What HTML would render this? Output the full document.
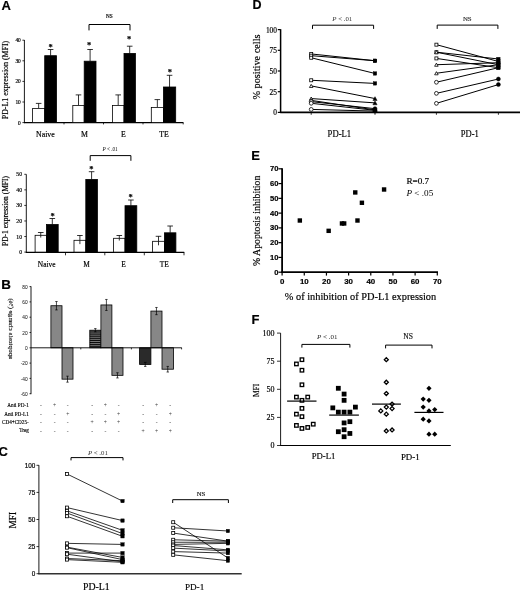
<!DOCTYPE html>
<html><head><meta charset="utf-8"><title>Figure</title>
<style>
html,body{margin:0;padding:0;background:#fff;}
body{width:520px;height:590px;overflow:hidden;}
svg{display:block;}
</style></head><body>
<svg width="520" height="590" viewBox="0 0 520 590">
<rect x="0" y="0" width="520" height="590" fill="#fff"/>
<g filter="url(#soft)">
<text x="1.60" y="10.00" font-size="13" text-anchor="start" style='font-family:"Liberation Sans",sans-serif' font-weight="bold" font-style="normal" fill="#000" stroke="#000" stroke-width="0.18">A</text>
<text x="1.20" y="288.70" font-size="13.4" text-anchor="start" style='font-family:"Liberation Sans",sans-serif' font-weight="bold" font-style="normal" fill="#000" stroke="#000" stroke-width="0.18">B</text>
<text x="-1.60" y="456.10" font-size="13" text-anchor="start" style='font-family:"Liberation Sans",sans-serif' font-weight="bold" font-style="normal" fill="#000" stroke="#000" stroke-width="0.18">C</text>
<text x="252.60" y="9.10" font-size="12.5" text-anchor="start" style='font-family:"Liberation Sans",sans-serif' font-weight="bold" font-style="normal" fill="#000" stroke="#000" stroke-width="0.18">D</text>
<text x="251.20" y="159.50" font-size="13" text-anchor="start" style='font-family:"Liberation Sans",sans-serif' font-weight="bold" font-style="normal" fill="#000" stroke="#000" stroke-width="0.18">E</text>
<text x="251.50" y="323.80" font-size="13" text-anchor="start" style='font-family:"Liberation Sans",sans-serif' font-weight="bold" font-style="normal" fill="#000" stroke="#000" stroke-width="0.18">F</text>
<line x1="24.40" y1="40.00" x2="24.40" y2="123.10" stroke="#000" stroke-width="0.9"/>
<line x1="24.00" y1="122.60" x2="183.40" y2="122.60" stroke="#000" stroke-width="1.2"/>
<line x1="22.40" y1="122.60" x2="24.40" y2="122.60" stroke="#000" stroke-width="0.8"/>
<text x="20.80" y="124.50" font-size="5.4" text-anchor="end" style='font-family:"Liberation Serif",serif' font-weight="normal" font-style="normal" fill="#000" stroke="#000" stroke-width="0.18">0</text>
<line x1="22.40" y1="102.00" x2="24.40" y2="102.00" stroke="#000" stroke-width="0.8"/>
<text x="20.80" y="103.90" font-size="5.4" text-anchor="end" style='font-family:"Liberation Serif",serif' font-weight="normal" font-style="normal" fill="#000" stroke="#000" stroke-width="0.18">10</text>
<line x1="22.40" y1="81.40" x2="24.40" y2="81.40" stroke="#000" stroke-width="0.8"/>
<text x="20.80" y="83.30" font-size="5.4" text-anchor="end" style='font-family:"Liberation Serif",serif' font-weight="normal" font-style="normal" fill="#000" stroke="#000" stroke-width="0.18">20</text>
<line x1="22.40" y1="60.80" x2="24.40" y2="60.80" stroke="#000" stroke-width="0.8"/>
<text x="20.80" y="62.70" font-size="5.4" text-anchor="end" style='font-family:"Liberation Serif",serif' font-weight="normal" font-style="normal" fill="#000" stroke="#000" stroke-width="0.18">30</text>
<line x1="22.40" y1="40.20" x2="24.40" y2="40.20" stroke="#000" stroke-width="0.8"/>
<text x="20.80" y="42.10" font-size="5.4" text-anchor="end" style='font-family:"Liberation Serif",serif' font-weight="normal" font-style="normal" fill="#000" stroke="#000" stroke-width="0.18">40</text>
<line x1="64.00" y1="122.60" x2="64.00" y2="124.40" stroke="#000" stroke-width="0.8"/>
<line x1="103.50" y1="122.60" x2="103.50" y2="124.40" stroke="#000" stroke-width="0.8"/>
<line x1="143.00" y1="122.60" x2="143.00" y2="124.40" stroke="#000" stroke-width="0.8"/>
<line x1="183.20" y1="122.60" x2="183.20" y2="124.40" stroke="#000" stroke-width="0.8"/>
<text x="7.70" y="80.00" font-size="7.9" text-anchor="middle" style='font-family:"Liberation Serif",serif' font-weight="normal" font-style="normal" fill="#000" stroke="#000" stroke-width="0.18" transform="rotate(-90 7.70 80.00)">PD-L1 expression (MFI)</text>
<line x1="38.65" y1="108.40" x2="38.65" y2="103.40" stroke="#000" stroke-width="0.8"/>
<line x1="35.85" y1="103.40" x2="41.45" y2="103.40" stroke="#000" stroke-width="0.8"/>
<line x1="50.60" y1="55.70" x2="50.60" y2="49.50" stroke="#000" stroke-width="0.8"/>
<line x1="47.80" y1="49.50" x2="53.40" y2="49.50" stroke="#000" stroke-width="0.8"/>
<rect x="32.60" y="108.40" width="12.10" height="14.20" fill="#fff" stroke="#000" stroke-width="0.8"/>
<rect x="44.70" y="55.70" width="11.80" height="66.90" fill="#000" stroke="#000" stroke-width="0.8"/>
<line x1="78.50" y1="105.40" x2="78.50" y2="94.90" stroke="#000" stroke-width="0.8"/>
<line x1="75.70" y1="94.90" x2="81.30" y2="94.90" stroke="#000" stroke-width="0.8"/>
<line x1="90.10" y1="61.20" x2="90.10" y2="49.50" stroke="#000" stroke-width="0.8"/>
<line x1="87.30" y1="49.50" x2="92.90" y2="49.50" stroke="#000" stroke-width="0.8"/>
<rect x="72.80" y="105.40" width="11.40" height="17.20" fill="#fff" stroke="#000" stroke-width="0.8"/>
<rect x="84.20" y="61.20" width="11.80" height="61.40" fill="#000" stroke="#000" stroke-width="0.8"/>
<line x1="118.20" y1="105.40" x2="118.20" y2="94.90" stroke="#000" stroke-width="0.8"/>
<line x1="115.40" y1="94.90" x2="121.00" y2="94.90" stroke="#000" stroke-width="0.8"/>
<line x1="129.70" y1="53.40" x2="129.70" y2="46.20" stroke="#000" stroke-width="0.8"/>
<line x1="126.90" y1="46.20" x2="132.50" y2="46.20" stroke="#000" stroke-width="0.8"/>
<rect x="112.40" y="105.40" width="11.60" height="17.20" fill="#fff" stroke="#000" stroke-width="0.8"/>
<rect x="124.00" y="53.40" width="11.40" height="69.20" fill="#000" stroke="#000" stroke-width="0.8"/>
<line x1="157.35" y1="107.40" x2="157.35" y2="99.60" stroke="#000" stroke-width="0.8"/>
<line x1="154.55" y1="99.60" x2="160.15" y2="99.60" stroke="#000" stroke-width="0.8"/>
<line x1="169.55" y1="87.00" x2="169.55" y2="75.30" stroke="#000" stroke-width="0.8"/>
<line x1="166.75" y1="75.30" x2="172.35" y2="75.30" stroke="#000" stroke-width="0.8"/>
<rect x="151.30" y="107.40" width="12.10" height="15.20" fill="#fff" stroke="#000" stroke-width="0.8"/>
<rect x="163.40" y="87.00" width="12.30" height="35.60" fill="#000" stroke="#000" stroke-width="0.8"/>
<text x="50.60" y="49.80" font-size="8.5" text-anchor="middle" style='font-family:"Liberation Serif",serif' font-weight="bold" font-style="normal" fill="#000" stroke="#000" stroke-width="0.18">*</text>
<text x="89.00" y="47.60" font-size="8.5" text-anchor="middle" style='font-family:"Liberation Serif",serif' font-weight="bold" font-style="normal" fill="#000" stroke="#000" stroke-width="0.18">*</text>
<text x="129.20" y="42.40" font-size="8.5" text-anchor="middle" style='font-family:"Liberation Serif",serif' font-weight="bold" font-style="normal" fill="#000" stroke="#000" stroke-width="0.18">*</text>
<text x="169.80" y="75.20" font-size="8.5" text-anchor="middle" style='font-family:"Liberation Serif",serif' font-weight="bold" font-style="normal" fill="#000" stroke="#000" stroke-width="0.18">*</text>
<text x="45.40" y="136.60" font-size="7.8" text-anchor="middle" style='font-family:"Liberation Serif",serif' font-weight="normal" font-style="normal" fill="#000" stroke="#000" stroke-width="0.18">Naive</text>
<text x="84.40" y="136.60" font-size="7.8" text-anchor="middle" style='font-family:"Liberation Serif",serif' font-weight="normal" font-style="normal" fill="#000" stroke="#000" stroke-width="0.18">M</text>
<text x="123.50" y="136.60" font-size="7.8" text-anchor="middle" style='font-family:"Liberation Serif",serif' font-weight="normal" font-style="normal" fill="#000" stroke="#000" stroke-width="0.18">E</text>
<text x="164.10" y="136.60" font-size="7.8" text-anchor="middle" style='font-family:"Liberation Serif",serif' font-weight="normal" font-style="normal" fill="#000" stroke="#000" stroke-width="0.18">TE</text>
<polyline points="89.00,30.40 89.00,24.50 130.00,24.50 130.00,30.40" fill="none" stroke="#000" stroke-width="1.0"/>
<text x="109.40" y="18.00" font-size="5.2" text-anchor="middle" style='font-family:"Liberation Serif",serif' font-weight="normal" font-style="normal" fill="#000" stroke="#000" stroke-width="0.18">NS</text>
<line x1="26.30" y1="174.30" x2="26.30" y2="252.90" stroke="#000" stroke-width="0.9"/>
<line x1="25.90" y1="252.40" x2="184.20" y2="252.40" stroke="#000" stroke-width="1.2"/>
<line x1="24.30" y1="252.10" x2="26.30" y2="252.10" stroke="#000" stroke-width="0.8"/>
<text x="22.10" y="254.10" font-size="5.8" text-anchor="end" style='font-family:"Liberation Serif",serif' font-weight="normal" font-style="normal" fill="#000" stroke="#000" stroke-width="0.18">0</text>
<line x1="24.30" y1="236.54" x2="26.30" y2="236.54" stroke="#000" stroke-width="0.8"/>
<text x="22.10" y="238.54" font-size="5.8" text-anchor="end" style='font-family:"Liberation Serif",serif' font-weight="normal" font-style="normal" fill="#000" stroke="#000" stroke-width="0.18">10</text>
<line x1="24.30" y1="220.98" x2="26.30" y2="220.98" stroke="#000" stroke-width="0.8"/>
<text x="22.10" y="222.98" font-size="5.8" text-anchor="end" style='font-family:"Liberation Serif",serif' font-weight="normal" font-style="normal" fill="#000" stroke="#000" stroke-width="0.18">20</text>
<line x1="24.30" y1="205.42" x2="26.30" y2="205.42" stroke="#000" stroke-width="0.8"/>
<text x="22.10" y="207.42" font-size="5.8" text-anchor="end" style='font-family:"Liberation Serif",serif' font-weight="normal" font-style="normal" fill="#000" stroke="#000" stroke-width="0.18">30</text>
<line x1="24.30" y1="189.86" x2="26.30" y2="189.86" stroke="#000" stroke-width="0.8"/>
<text x="22.10" y="191.86" font-size="5.8" text-anchor="end" style='font-family:"Liberation Serif",serif' font-weight="normal" font-style="normal" fill="#000" stroke="#000" stroke-width="0.18">40</text>
<line x1="24.30" y1="174.30" x2="26.30" y2="174.30" stroke="#000" stroke-width="0.8"/>
<text x="22.10" y="176.30" font-size="5.8" text-anchor="end" style='font-family:"Liberation Serif",serif' font-weight="normal" font-style="normal" fill="#000" stroke="#000" stroke-width="0.18">50</text>
<line x1="65.50" y1="252.10" x2="65.50" y2="255.30" stroke="#000" stroke-width="0.8"/>
<line x1="104.80" y1="252.10" x2="104.80" y2="255.30" stroke="#000" stroke-width="0.8"/>
<line x1="144.30" y1="252.10" x2="144.30" y2="255.30" stroke="#000" stroke-width="0.8"/>
<line x1="184.00" y1="252.10" x2="184.00" y2="255.30" stroke="#000" stroke-width="0.8"/>
<text x="8.40" y="211.00" font-size="7.5" text-anchor="middle" style='font-family:"Liberation Serif",serif' font-weight="normal" font-style="normal" fill="#000" stroke="#000" stroke-width="0.18" transform="rotate(-90 8.40 211.00)">PD-1 expression (MFI)</text>
<line x1="40.75" y1="235.30" x2="40.75" y2="232.50" stroke="#000" stroke-width="0.8"/>
<line x1="37.95" y1="232.50" x2="43.55" y2="232.50" stroke="#000" stroke-width="0.8"/>
<line x1="52.30" y1="224.50" x2="52.30" y2="218.50" stroke="#000" stroke-width="0.8"/>
<line x1="49.50" y1="218.50" x2="55.10" y2="218.50" stroke="#000" stroke-width="0.8"/>
<rect x="35.10" y="235.30" width="11.30" height="16.80" fill="#fff" stroke="#000" stroke-width="0.8"/>
<rect x="46.40" y="224.50" width="11.80" height="27.60" fill="#000" stroke="#000" stroke-width="0.8"/>
<line x1="40.75" y1="235.30" x2="40.75" y2="237.54" stroke="#000" stroke-width="0.8"/>
<line x1="79.90" y1="240.30" x2="79.90" y2="235.50" stroke="#000" stroke-width="0.8"/>
<line x1="77.10" y1="235.50" x2="82.70" y2="235.50" stroke="#000" stroke-width="0.8"/>
<line x1="91.60" y1="179.40" x2="91.60" y2="171.70" stroke="#000" stroke-width="0.8"/>
<line x1="88.80" y1="171.70" x2="94.40" y2="171.70" stroke="#000" stroke-width="0.8"/>
<rect x="74.00" y="240.30" width="11.80" height="11.80" fill="#fff" stroke="#000" stroke-width="0.8"/>
<rect x="85.80" y="179.40" width="11.60" height="72.70" fill="#000" stroke="#000" stroke-width="0.8"/>
<line x1="79.90" y1="240.30" x2="79.90" y2="244.14" stroke="#000" stroke-width="0.8"/>
<line x1="119.30" y1="238.30" x2="119.30" y2="235.50" stroke="#000" stroke-width="0.8"/>
<line x1="116.50" y1="235.50" x2="122.10" y2="235.50" stroke="#000" stroke-width="0.8"/>
<line x1="130.90" y1="205.70" x2="130.90" y2="200.00" stroke="#000" stroke-width="0.8"/>
<line x1="128.10" y1="200.00" x2="133.70" y2="200.00" stroke="#000" stroke-width="0.8"/>
<rect x="113.60" y="238.30" width="11.40" height="13.80" fill="#fff" stroke="#000" stroke-width="0.8"/>
<rect x="125.00" y="205.70" width="11.80" height="46.40" fill="#000" stroke="#000" stroke-width="0.8"/>
<line x1="119.30" y1="238.30" x2="119.30" y2="240.54" stroke="#000" stroke-width="0.8"/>
<line x1="158.50" y1="241.30" x2="158.50" y2="236.30" stroke="#000" stroke-width="0.8"/>
<line x1="155.70" y1="236.30" x2="161.30" y2="236.30" stroke="#000" stroke-width="0.8"/>
<line x1="170.15" y1="232.80" x2="170.15" y2="226.00" stroke="#000" stroke-width="0.8"/>
<line x1="167.35" y1="226.00" x2="172.95" y2="226.00" stroke="#000" stroke-width="0.8"/>
<rect x="152.60" y="241.30" width="11.80" height="10.80" fill="#fff" stroke="#000" stroke-width="0.8"/>
<rect x="164.40" y="232.80" width="11.50" height="19.30" fill="#000" stroke="#000" stroke-width="0.8"/>
<line x1="158.50" y1="241.30" x2="158.50" y2="245.30" stroke="#000" stroke-width="0.8"/>
<text x="52.50" y="219.10" font-size="8.5" text-anchor="middle" style='font-family:"Liberation Serif",serif' font-weight="bold" font-style="normal" fill="#000" stroke="#000" stroke-width="0.18">*</text>
<text x="91.30" y="171.90" font-size="8.5" text-anchor="middle" style='font-family:"Liberation Serif",serif' font-weight="bold" font-style="normal" fill="#000" stroke="#000" stroke-width="0.18">*</text>
<text x="130.60" y="200.30" font-size="8.5" text-anchor="middle" style='font-family:"Liberation Serif",serif' font-weight="bold" font-style="normal" fill="#000" stroke="#000" stroke-width="0.18">*</text>
<text x="46.70" y="267.00" font-size="7.4" text-anchor="middle" style='font-family:"Liberation Serif",serif' font-weight="normal" font-style="normal" fill="#000" stroke="#000" stroke-width="0.18">Naive</text>
<text x="86.60" y="267.00" font-size="7.4" text-anchor="middle" style='font-family:"Liberation Serif",serif' font-weight="normal" font-style="normal" fill="#000" stroke="#000" stroke-width="0.18">M</text>
<text x="123.50" y="267.00" font-size="7.4" text-anchor="middle" style='font-family:"Liberation Serif",serif' font-weight="normal" font-style="normal" fill="#000" stroke="#000" stroke-width="0.18">E</text>
<text x="164.20" y="267.00" font-size="7.4" text-anchor="middle" style='font-family:"Liberation Serif",serif' font-weight="normal" font-style="normal" fill="#000" stroke="#000" stroke-width="0.18">TE</text>
<polyline points="90.20,160.80 90.20,155.60 130.90,155.60 130.90,160.80" fill="none" stroke="#000" stroke-width="1.0"/>
<text x="110.1" y="151.2" font-size="5.2" text-anchor="middle" style='font-family:"Liberation Serif",serif'><tspan font-style="italic">P</tspan> &lt; .01</text>
<line x1="31.00" y1="286.30" x2="31.00" y2="394.20" stroke="#000" stroke-width="0.9"/>
<line x1="29.50" y1="286.60" x2="31.00" y2="286.60" stroke="#000" stroke-width="0.8"/>
<text x="27.70" y="288.70" font-size="6.0" text-anchor="end" style='font-family:"Liberation Sans",sans-serif' font-weight="normal" font-style="normal" fill="#222" stroke="#222" stroke-width="0.05" textLength="5.34" lengthAdjust="spacingAndGlyphs">80</text>
<line x1="29.50" y1="301.90" x2="31.00" y2="301.90" stroke="#000" stroke-width="0.8"/>
<text x="27.70" y="304.00" font-size="6.0" text-anchor="end" style='font-family:"Liberation Sans",sans-serif' font-weight="normal" font-style="normal" fill="#222" stroke="#222" stroke-width="0.05" textLength="5.34" lengthAdjust="spacingAndGlyphs">60</text>
<line x1="29.50" y1="317.20" x2="31.00" y2="317.20" stroke="#000" stroke-width="0.8"/>
<text x="27.70" y="319.30" font-size="6.0" text-anchor="end" style='font-family:"Liberation Sans",sans-serif' font-weight="normal" font-style="normal" fill="#222" stroke="#222" stroke-width="0.05" textLength="5.34" lengthAdjust="spacingAndGlyphs">40</text>
<line x1="29.50" y1="332.50" x2="31.00" y2="332.50" stroke="#000" stroke-width="0.8"/>
<text x="27.70" y="334.60" font-size="6.0" text-anchor="end" style='font-family:"Liberation Sans",sans-serif' font-weight="normal" font-style="normal" fill="#222" stroke="#222" stroke-width="0.05" textLength="5.34" lengthAdjust="spacingAndGlyphs">20</text>
<line x1="29.50" y1="347.80" x2="31.00" y2="347.80" stroke="#000" stroke-width="0.8"/>
<text x="27.70" y="349.90" font-size="6.0" text-anchor="end" style='font-family:"Liberation Sans",sans-serif' font-weight="normal" font-style="normal" fill="#222" stroke="#222" stroke-width="0.05" textLength="2.67" lengthAdjust="spacingAndGlyphs">0</text>
<line x1="29.50" y1="363.10" x2="31.00" y2="363.10" stroke="#000" stroke-width="0.8"/>
<text x="27.70" y="365.20" font-size="6.0" text-anchor="end" style='font-family:"Liberation Sans",sans-serif' font-weight="normal" font-style="normal" fill="#222" stroke="#222" stroke-width="0.05" textLength="6.94" lengthAdjust="spacingAndGlyphs">-20</text>
<line x1="29.50" y1="378.40" x2="31.00" y2="378.40" stroke="#000" stroke-width="0.8"/>
<text x="27.70" y="380.50" font-size="6.0" text-anchor="end" style='font-family:"Liberation Sans",sans-serif' font-weight="normal" font-style="normal" fill="#222" stroke="#222" stroke-width="0.05" textLength="6.94" lengthAdjust="spacingAndGlyphs">-40</text>
<line x1="29.50" y1="393.70" x2="31.00" y2="393.70" stroke="#000" stroke-width="0.8"/>
<text x="27.70" y="395.80" font-size="6.0" text-anchor="end" style='font-family:"Liberation Sans",sans-serif' font-weight="normal" font-style="normal" fill="#222" stroke="#222" stroke-width="0.05" textLength="6.94" lengthAdjust="spacingAndGlyphs">-60</text>
<text x="0" y="0" font-size="7.1" text-anchor="middle" style='font-family:"Liberation Serif",serif' fill="#111" stroke="#111" stroke-width="0.15" transform="translate(8.7 328.8) scale(-1 1) rotate(-90)">apoptosis change (%)</text>
<defs><pattern id="hs" width="4" height="1.9" patternUnits="userSpaceOnUse"><rect width="4" height="1.9" fill="#999"/><rect width="4" height="1.15" fill="#050505"/></pattern></defs>
<line x1="56.45" y1="301.53" x2="56.45" y2="309.93" stroke="#000" stroke-width="0.7"/>
<line x1="55.25" y1="301.53" x2="57.65" y2="301.53" stroke="#000" stroke-width="0.7"/>
<line x1="55.25" y1="309.93" x2="57.65" y2="309.93" stroke="#000" stroke-width="0.7"/>
<rect x="50.90" y="305.73" width="11.10" height="42.07" fill="#878787" stroke="#000" stroke-width="0.8"/>
<line x1="56.45" y1="305.73" x2="56.45" y2="309.93" stroke="#000" stroke-width="0.7"/>
<line x1="55.25" y1="309.93" x2="57.65" y2="309.93" stroke="#000" stroke-width="0.7"/>
<line x1="67.50" y1="376.17" x2="67.50" y2="382.17" stroke="#000" stroke-width="0.7"/>
<line x1="66.30" y1="376.17" x2="68.70" y2="376.17" stroke="#000" stroke-width="0.7"/>
<line x1="66.30" y1="382.17" x2="68.70" y2="382.17" stroke="#000" stroke-width="0.7"/>
<rect x="62.00" y="347.80" width="11.00" height="31.37" fill="#878787" stroke="#000" stroke-width="0.8"/>
<line x1="67.50" y1="376.17" x2="67.50" y2="379.17" stroke="#000" stroke-width="0.7"/>
<line x1="66.30" y1="376.17" x2="68.70" y2="376.17" stroke="#000" stroke-width="0.7"/>
<line x1="95.35" y1="328.61" x2="95.35" y2="331.81" stroke="#000" stroke-width="0.7"/>
<line x1="94.15" y1="328.61" x2="96.55" y2="328.61" stroke="#000" stroke-width="0.7"/>
<line x1="94.15" y1="331.81" x2="96.55" y2="331.81" stroke="#000" stroke-width="0.7"/>
<rect x="89.80" y="330.21" width="11.10" height="17.59" fill="url(#hs)" stroke="#000" stroke-width="0.8"/>
<line x1="95.35" y1="330.21" x2="95.35" y2="331.81" stroke="#000" stroke-width="0.7"/>
<line x1="94.15" y1="331.81" x2="96.55" y2="331.81" stroke="#000" stroke-width="0.7"/>
<line x1="106.40" y1="299.46" x2="106.40" y2="310.46" stroke="#000" stroke-width="0.7"/>
<line x1="105.20" y1="299.46" x2="107.60" y2="299.46" stroke="#000" stroke-width="0.7"/>
<line x1="105.20" y1="310.46" x2="107.60" y2="310.46" stroke="#000" stroke-width="0.7"/>
<rect x="100.90" y="304.96" width="11.00" height="42.84" fill="#878787" stroke="#000" stroke-width="0.8"/>
<line x1="106.40" y1="304.96" x2="106.40" y2="310.46" stroke="#000" stroke-width="0.7"/>
<line x1="105.20" y1="310.46" x2="107.60" y2="310.46" stroke="#000" stroke-width="0.7"/>
<line x1="117.45" y1="372.74" x2="117.45" y2="377.94" stroke="#000" stroke-width="0.7"/>
<line x1="116.25" y1="372.74" x2="118.65" y2="372.74" stroke="#000" stroke-width="0.7"/>
<line x1="116.25" y1="377.94" x2="118.65" y2="377.94" stroke="#000" stroke-width="0.7"/>
<rect x="111.90" y="347.80" width="11.10" height="27.54" fill="#878787" stroke="#000" stroke-width="0.8"/>
<line x1="117.45" y1="372.74" x2="117.45" y2="375.34" stroke="#000" stroke-width="0.7"/>
<line x1="116.25" y1="372.74" x2="118.65" y2="372.74" stroke="#000" stroke-width="0.7"/>
<line x1="145.25" y1="362.40" x2="145.25" y2="366.40" stroke="#000" stroke-width="0.7"/>
<line x1="144.05" y1="362.40" x2="146.45" y2="362.40" stroke="#000" stroke-width="0.7"/>
<line x1="144.05" y1="366.40" x2="146.45" y2="366.40" stroke="#000" stroke-width="0.7"/>
<rect x="139.60" y="347.80" width="11.30" height="16.60" fill="#2a2a2a" stroke="#000" stroke-width="0.8"/>
<line x1="145.25" y1="362.40" x2="145.25" y2="364.40" stroke="#000" stroke-width="0.7"/>
<line x1="144.05" y1="362.40" x2="146.45" y2="362.40" stroke="#000" stroke-width="0.7"/>
<line x1="156.45" y1="307.48" x2="156.45" y2="314.68" stroke="#000" stroke-width="0.7"/>
<line x1="155.25" y1="307.48" x2="157.65" y2="307.48" stroke="#000" stroke-width="0.7"/>
<line x1="155.25" y1="314.68" x2="157.65" y2="314.68" stroke="#000" stroke-width="0.7"/>
<rect x="150.90" y="311.08" width="11.10" height="36.72" fill="#878787" stroke="#000" stroke-width="0.8"/>
<line x1="156.45" y1="311.08" x2="156.45" y2="314.68" stroke="#000" stroke-width="0.7"/>
<line x1="155.25" y1="314.68" x2="157.65" y2="314.68" stroke="#000" stroke-width="0.7"/>
<line x1="167.75" y1="366.42" x2="167.75" y2="372.02" stroke="#000" stroke-width="0.7"/>
<line x1="166.55" y1="366.42" x2="168.95" y2="366.42" stroke="#000" stroke-width="0.7"/>
<line x1="166.55" y1="372.02" x2="168.95" y2="372.02" stroke="#000" stroke-width="0.7"/>
<rect x="162.00" y="347.80" width="11.50" height="21.42" fill="#878787" stroke="#000" stroke-width="0.8"/>
<line x1="167.75" y1="366.42" x2="167.75" y2="369.22" stroke="#000" stroke-width="0.7"/>
<line x1="166.55" y1="366.42" x2="168.95" y2="366.42" stroke="#000" stroke-width="0.7"/>
<line x1="31.00" y1="347.80" x2="181.80" y2="347.80" stroke="#000" stroke-width="0.9"/>
<line x1="80.80" y1="347.80" x2="80.80" y2="349.40" stroke="#000" stroke-width="0.8"/>
<line x1="131.40" y1="347.80" x2="131.40" y2="349.40" stroke="#000" stroke-width="0.8"/>
<line x1="181.60" y1="347.80" x2="181.60" y2="349.40" stroke="#000" stroke-width="0.8"/>
<text x="28.80" y="406.80" font-size="5.2" text-anchor="end" style='font-family:"Liberation Serif",serif' font-weight="normal" font-style="normal" fill="#000" stroke="#000" stroke-width="0.15">Anti PD-1</text>
<text x="40.90" y="407.00" font-size="5.6" text-anchor="middle" style='font-family:"Liberation Serif",serif' font-weight="normal" font-style="normal" fill="#444" stroke="#444" stroke-width="0.05">-</text>
<text x="54.70" y="407.00" font-size="5.6" text-anchor="middle" style='font-family:"Liberation Serif",serif' font-weight="normal" font-style="normal" fill="#444" stroke="#444" stroke-width="0.05">+</text>
<text x="67.80" y="407.00" font-size="5.6" text-anchor="middle" style='font-family:"Liberation Serif",serif' font-weight="normal" font-style="normal" fill="#444" stroke="#444" stroke-width="0.05">-</text>
<text x="92.10" y="407.00" font-size="5.6" text-anchor="middle" style='font-family:"Liberation Serif",serif' font-weight="normal" font-style="normal" fill="#444" stroke="#444" stroke-width="0.05">-</text>
<text x="105.40" y="407.00" font-size="5.6" text-anchor="middle" style='font-family:"Liberation Serif",serif' font-weight="normal" font-style="normal" fill="#444" stroke="#444" stroke-width="0.05">+</text>
<text x="118.70" y="407.00" font-size="5.6" text-anchor="middle" style='font-family:"Liberation Serif",serif' font-weight="normal" font-style="normal" fill="#444" stroke="#444" stroke-width="0.05">-</text>
<text x="143.20" y="407.00" font-size="5.6" text-anchor="middle" style='font-family:"Liberation Serif",serif' font-weight="normal" font-style="normal" fill="#444" stroke="#444" stroke-width="0.05">-</text>
<text x="156.70" y="407.00" font-size="5.6" text-anchor="middle" style='font-family:"Liberation Serif",serif' font-weight="normal" font-style="normal" fill="#444" stroke="#444" stroke-width="0.05">+</text>
<text x="170.30" y="407.00" font-size="5.6" text-anchor="middle" style='font-family:"Liberation Serif",serif' font-weight="normal" font-style="normal" fill="#444" stroke="#444" stroke-width="0.05">-</text>
<text x="28.80" y="415.90" font-size="5.2" text-anchor="end" style='font-family:"Liberation Serif",serif' font-weight="normal" font-style="normal" fill="#000" stroke="#000" stroke-width="0.15">Anti PD-L1</text>
<text x="40.90" y="416.10" font-size="5.6" text-anchor="middle" style='font-family:"Liberation Serif",serif' font-weight="normal" font-style="normal" fill="#444" stroke="#444" stroke-width="0.05">-</text>
<text x="54.70" y="416.10" font-size="5.6" text-anchor="middle" style='font-family:"Liberation Serif",serif' font-weight="normal" font-style="normal" fill="#444" stroke="#444" stroke-width="0.05">-</text>
<text x="67.80" y="416.10" font-size="5.6" text-anchor="middle" style='font-family:"Liberation Serif",serif' font-weight="normal" font-style="normal" fill="#444" stroke="#444" stroke-width="0.05">+</text>
<text x="92.10" y="416.10" font-size="5.6" text-anchor="middle" style='font-family:"Liberation Serif",serif' font-weight="normal" font-style="normal" fill="#444" stroke="#444" stroke-width="0.05">-</text>
<text x="105.40" y="416.10" font-size="5.6" text-anchor="middle" style='font-family:"Liberation Serif",serif' font-weight="normal" font-style="normal" fill="#444" stroke="#444" stroke-width="0.05">-</text>
<text x="118.70" y="416.10" font-size="5.6" text-anchor="middle" style='font-family:"Liberation Serif",serif' font-weight="normal" font-style="normal" fill="#444" stroke="#444" stroke-width="0.05">+</text>
<text x="143.20" y="416.10" font-size="5.6" text-anchor="middle" style='font-family:"Liberation Serif",serif' font-weight="normal" font-style="normal" fill="#444" stroke="#444" stroke-width="0.05">-</text>
<text x="156.70" y="416.10" font-size="5.6" text-anchor="middle" style='font-family:"Liberation Serif",serif' font-weight="normal" font-style="normal" fill="#444" stroke="#444" stroke-width="0.05">-</text>
<text x="170.30" y="416.10" font-size="5.6" text-anchor="middle" style='font-family:"Liberation Serif",serif' font-weight="normal" font-style="normal" fill="#444" stroke="#444" stroke-width="0.05">+</text>
<text x="28.80" y="424.10" font-size="5.2" text-anchor="end" style='font-family:"Liberation Serif",serif' font-weight="normal" font-style="normal" fill="#000" stroke="#000" stroke-width="0.15">CD4+CD25-</text>
<text x="40.90" y="424.30" font-size="5.6" text-anchor="middle" style='font-family:"Liberation Serif",serif' font-weight="normal" font-style="normal" fill="#444" stroke="#444" stroke-width="0.05">-</text>
<text x="54.70" y="424.30" font-size="5.6" text-anchor="middle" style='font-family:"Liberation Serif",serif' font-weight="normal" font-style="normal" fill="#444" stroke="#444" stroke-width="0.05">-</text>
<text x="67.80" y="424.30" font-size="5.6" text-anchor="middle" style='font-family:"Liberation Serif",serif' font-weight="normal" font-style="normal" fill="#444" stroke="#444" stroke-width="0.05">-</text>
<text x="92.10" y="424.30" font-size="5.6" text-anchor="middle" style='font-family:"Liberation Serif",serif' font-weight="normal" font-style="normal" fill="#444" stroke="#444" stroke-width="0.05">+</text>
<text x="105.40" y="424.30" font-size="5.6" text-anchor="middle" style='font-family:"Liberation Serif",serif' font-weight="normal" font-style="normal" fill="#444" stroke="#444" stroke-width="0.05">+</text>
<text x="118.70" y="424.30" font-size="5.6" text-anchor="middle" style='font-family:"Liberation Serif",serif' font-weight="normal" font-style="normal" fill="#444" stroke="#444" stroke-width="0.05">+</text>
<text x="143.20" y="424.30" font-size="5.6" text-anchor="middle" style='font-family:"Liberation Serif",serif' font-weight="normal" font-style="normal" fill="#444" stroke="#444" stroke-width="0.05">-</text>
<text x="156.70" y="424.30" font-size="5.6" text-anchor="middle" style='font-family:"Liberation Serif",serif' font-weight="normal" font-style="normal" fill="#444" stroke="#444" stroke-width="0.05">-</text>
<text x="170.30" y="424.30" font-size="5.6" text-anchor="middle" style='font-family:"Liberation Serif",serif' font-weight="normal" font-style="normal" fill="#444" stroke="#444" stroke-width="0.05">-</text>
<text x="28.80" y="432.40" font-size="5.2" text-anchor="end" style='font-family:"Liberation Serif",serif' font-weight="normal" font-style="normal" fill="#000" stroke="#000" stroke-width="0.15">Treg</text>
<text x="40.90" y="432.60" font-size="5.6" text-anchor="middle" style='font-family:"Liberation Serif",serif' font-weight="normal" font-style="normal" fill="#444" stroke="#444" stroke-width="0.05">-</text>
<text x="54.70" y="432.60" font-size="5.6" text-anchor="middle" style='font-family:"Liberation Serif",serif' font-weight="normal" font-style="normal" fill="#444" stroke="#444" stroke-width="0.05">-</text>
<text x="67.80" y="432.60" font-size="5.6" text-anchor="middle" style='font-family:"Liberation Serif",serif' font-weight="normal" font-style="normal" fill="#444" stroke="#444" stroke-width="0.05">-</text>
<text x="92.10" y="432.60" font-size="5.6" text-anchor="middle" style='font-family:"Liberation Serif",serif' font-weight="normal" font-style="normal" fill="#444" stroke="#444" stroke-width="0.05">-</text>
<text x="105.40" y="432.60" font-size="5.6" text-anchor="middle" style='font-family:"Liberation Serif",serif' font-weight="normal" font-style="normal" fill="#444" stroke="#444" stroke-width="0.05">-</text>
<text x="118.70" y="432.60" font-size="5.6" text-anchor="middle" style='font-family:"Liberation Serif",serif' font-weight="normal" font-style="normal" fill="#444" stroke="#444" stroke-width="0.05">-</text>
<text x="143.20" y="432.60" font-size="5.6" text-anchor="middle" style='font-family:"Liberation Serif",serif' font-weight="normal" font-style="normal" fill="#444" stroke="#444" stroke-width="0.05">+</text>
<text x="156.70" y="432.60" font-size="5.6" text-anchor="middle" style='font-family:"Liberation Serif",serif' font-weight="normal" font-style="normal" fill="#444" stroke="#444" stroke-width="0.05">+</text>
<text x="170.30" y="432.60" font-size="5.6" text-anchor="middle" style='font-family:"Liberation Serif",serif' font-weight="normal" font-style="normal" fill="#444" stroke="#444" stroke-width="0.05">+</text>
<line x1="38.90" y1="465.20" x2="38.90" y2="574.30" stroke="#000" stroke-width="0.9"/>
<line x1="38.50" y1="573.70" x2="241.70" y2="573.70" stroke="#333" stroke-width="1.4"/>
<line x1="36.50" y1="573.70" x2="38.90" y2="573.70" stroke="#000" stroke-width="0.8"/>
<text x="35.30" y="576.00" font-size="6.4" text-anchor="end" style='font-family:"Liberation Sans",sans-serif' font-weight="normal" font-style="normal" fill="#000" stroke="#000" stroke-width="0.18">0</text>
<line x1="36.50" y1="546.60" x2="38.90" y2="546.60" stroke="#000" stroke-width="0.8"/>
<text x="35.30" y="548.90" font-size="6.4" text-anchor="end" style='font-family:"Liberation Sans",sans-serif' font-weight="normal" font-style="normal" fill="#000" stroke="#000" stroke-width="0.18">25</text>
<line x1="36.50" y1="519.50" x2="38.90" y2="519.50" stroke="#000" stroke-width="0.8"/>
<text x="35.30" y="521.80" font-size="6.4" text-anchor="end" style='font-family:"Liberation Sans",sans-serif' font-weight="normal" font-style="normal" fill="#000" stroke="#000" stroke-width="0.18">50</text>
<line x1="36.50" y1="492.40" x2="38.90" y2="492.40" stroke="#000" stroke-width="0.8"/>
<text x="35.30" y="494.70" font-size="6.4" text-anchor="end" style='font-family:"Liberation Sans",sans-serif' font-weight="normal" font-style="normal" fill="#000" stroke="#000" stroke-width="0.18">75</text>
<line x1="36.50" y1="465.30" x2="38.90" y2="465.30" stroke="#000" stroke-width="0.8"/>
<text x="35.30" y="467.60" font-size="6.4" text-anchor="end" style='font-family:"Liberation Sans",sans-serif' font-weight="normal" font-style="normal" fill="#000" stroke="#000" stroke-width="0.18">100</text>
<text x="16.00" y="520.20" font-size="9.4" text-anchor="middle" style='font-family:"Liberation Serif",serif' font-weight="normal" font-style="normal" fill="#000" stroke="#000" stroke-width="0.18" transform="rotate(-90 16.00 520.20)">MFI</text>
<line x1="67.00" y1="473.97" x2="122.50" y2="501.07" stroke="#000" stroke-width="0.8"/>
<line x1="67.00" y1="507.58" x2="122.50" y2="520.58" stroke="#000" stroke-width="0.8"/>
<line x1="67.00" y1="510.83" x2="122.50" y2="530.34" stroke="#000" stroke-width="0.8"/>
<line x1="67.00" y1="513.00" x2="122.50" y2="533.59" stroke="#000" stroke-width="0.8"/>
<line x1="67.00" y1="516.25" x2="122.50" y2="536.30" stroke="#000" stroke-width="0.8"/>
<line x1="67.00" y1="543.35" x2="122.50" y2="544.43" stroke="#000" stroke-width="0.8"/>
<line x1="67.00" y1="547.14" x2="122.50" y2="557.44" stroke="#000" stroke-width="0.8"/>
<line x1="67.00" y1="547.68" x2="122.50" y2="559.61" stroke="#000" stroke-width="0.8"/>
<line x1="67.00" y1="553.10" x2="122.50" y2="553.10" stroke="#000" stroke-width="0.8"/>
<line x1="67.00" y1="554.19" x2="122.50" y2="561.78" stroke="#000" stroke-width="0.8"/>
<line x1="67.00" y1="558.52" x2="122.50" y2="560.69" stroke="#000" stroke-width="0.8"/>
<line x1="67.00" y1="559.61" x2="122.50" y2="562.32" stroke="#000" stroke-width="0.8"/>
<rect x="65.50" y="472.47" width="3.0" height="3.0" fill="#fff" stroke="#000" stroke-width="0.8"/>
<rect x="120.80" y="499.37" width="3.4" height="3.4" fill="#000" stroke="#000" stroke-width="0.4"/>
<rect x="65.50" y="506.08" width="3.0" height="3.0" fill="#fff" stroke="#000" stroke-width="0.8"/>
<rect x="120.80" y="518.88" width="3.4" height="3.4" fill="#000" stroke="#000" stroke-width="0.4"/>
<rect x="65.50" y="509.33" width="3.0" height="3.0" fill="#fff" stroke="#000" stroke-width="0.8"/>
<rect x="120.80" y="528.64" width="3.4" height="3.4" fill="#000" stroke="#000" stroke-width="0.4"/>
<rect x="65.50" y="511.50" width="3.0" height="3.0" fill="#fff" stroke="#000" stroke-width="0.8"/>
<rect x="120.80" y="531.89" width="3.4" height="3.4" fill="#000" stroke="#000" stroke-width="0.4"/>
<rect x="65.50" y="514.75" width="3.0" height="3.0" fill="#fff" stroke="#000" stroke-width="0.8"/>
<rect x="120.80" y="534.60" width="3.4" height="3.4" fill="#000" stroke="#000" stroke-width="0.4"/>
<rect x="65.50" y="541.85" width="3.0" height="3.0" fill="#fff" stroke="#000" stroke-width="0.8"/>
<rect x="120.80" y="542.73" width="3.4" height="3.4" fill="#000" stroke="#000" stroke-width="0.4"/>
<rect x="65.50" y="545.64" width="3.0" height="3.0" fill="#fff" stroke="#000" stroke-width="0.8"/>
<rect x="120.80" y="555.74" width="3.4" height="3.4" fill="#000" stroke="#000" stroke-width="0.4"/>
<rect x="65.50" y="546.18" width="3.0" height="3.0" fill="#fff" stroke="#000" stroke-width="0.8"/>
<rect x="120.80" y="557.91" width="3.4" height="3.4" fill="#000" stroke="#000" stroke-width="0.4"/>
<rect x="65.50" y="551.60" width="3.0" height="3.0" fill="#fff" stroke="#000" stroke-width="0.8"/>
<rect x="120.80" y="551.40" width="3.4" height="3.4" fill="#000" stroke="#000" stroke-width="0.4"/>
<rect x="65.50" y="552.69" width="3.0" height="3.0" fill="#fff" stroke="#000" stroke-width="0.8"/>
<rect x="120.80" y="560.08" width="3.4" height="3.4" fill="#000" stroke="#000" stroke-width="0.4"/>
<rect x="65.50" y="557.02" width="3.0" height="3.0" fill="#fff" stroke="#000" stroke-width="0.8"/>
<rect x="120.80" y="558.99" width="3.4" height="3.4" fill="#000" stroke="#000" stroke-width="0.4"/>
<rect x="65.50" y="558.11" width="3.0" height="3.0" fill="#fff" stroke="#000" stroke-width="0.8"/>
<rect x="120.80" y="560.62" width="3.4" height="3.4" fill="#000" stroke="#000" stroke-width="0.4"/>
<line x1="173.20" y1="522.21" x2="227.90" y2="557.98" stroke="#000" stroke-width="0.8"/>
<line x1="173.20" y1="527.74" x2="227.90" y2="530.99" stroke="#000" stroke-width="0.8"/>
<line x1="173.20" y1="533.05" x2="227.90" y2="541.18" stroke="#000" stroke-width="0.8"/>
<line x1="173.20" y1="539.77" x2="227.90" y2="541.18" stroke="#000" stroke-width="0.8"/>
<line x1="173.20" y1="542.26" x2="227.90" y2="542.26" stroke="#000" stroke-width="0.8"/>
<line x1="173.20" y1="544.43" x2="227.90" y2="543.35" stroke="#000" stroke-width="0.8"/>
<line x1="173.20" y1="545.52" x2="227.90" y2="549.85" stroke="#000" stroke-width="0.8"/>
<line x1="173.20" y1="548.12" x2="227.90" y2="550.94" stroke="#000" stroke-width="0.8"/>
<line x1="173.20" y1="551.59" x2="227.90" y2="553.10" stroke="#000" stroke-width="0.8"/>
<line x1="173.20" y1="554.84" x2="227.90" y2="560.69" stroke="#000" stroke-width="0.8"/>
<rect x="171.70" y="520.71" width="3.0" height="3.0" fill="#fff" stroke="#000" stroke-width="0.8"/>
<rect x="226.20" y="556.28" width="3.4" height="3.4" fill="#000" stroke="#000" stroke-width="0.4"/>
<rect x="171.70" y="526.24" width="3.0" height="3.0" fill="#fff" stroke="#000" stroke-width="0.8"/>
<rect x="226.20" y="529.29" width="3.4" height="3.4" fill="#000" stroke="#000" stroke-width="0.4"/>
<rect x="171.70" y="531.55" width="3.0" height="3.0" fill="#fff" stroke="#000" stroke-width="0.8"/>
<rect x="226.20" y="539.48" width="3.4" height="3.4" fill="#000" stroke="#000" stroke-width="0.4"/>
<rect x="171.70" y="538.27" width="3.0" height="3.0" fill="#fff" stroke="#000" stroke-width="0.8"/>
<rect x="226.20" y="539.48" width="3.4" height="3.4" fill="#000" stroke="#000" stroke-width="0.4"/>
<rect x="171.70" y="540.76" width="3.0" height="3.0" fill="#fff" stroke="#000" stroke-width="0.8"/>
<rect x="226.20" y="540.56" width="3.4" height="3.4" fill="#000" stroke="#000" stroke-width="0.4"/>
<rect x="171.70" y="542.93" width="3.0" height="3.0" fill="#fff" stroke="#000" stroke-width="0.8"/>
<rect x="226.20" y="541.65" width="3.4" height="3.4" fill="#000" stroke="#000" stroke-width="0.4"/>
<rect x="171.70" y="544.02" width="3.0" height="3.0" fill="#fff" stroke="#000" stroke-width="0.8"/>
<rect x="226.20" y="548.15" width="3.4" height="3.4" fill="#000" stroke="#000" stroke-width="0.4"/>
<rect x="171.70" y="546.62" width="3.0" height="3.0" fill="#fff" stroke="#000" stroke-width="0.8"/>
<rect x="226.20" y="549.24" width="3.4" height="3.4" fill="#000" stroke="#000" stroke-width="0.4"/>
<rect x="171.70" y="550.09" width="3.0" height="3.0" fill="#fff" stroke="#000" stroke-width="0.8"/>
<rect x="226.20" y="551.40" width="3.4" height="3.4" fill="#000" stroke="#000" stroke-width="0.4"/>
<rect x="171.70" y="553.34" width="3.0" height="3.0" fill="#fff" stroke="#000" stroke-width="0.8"/>
<rect x="226.20" y="558.99" width="3.4" height="3.4" fill="#000" stroke="#000" stroke-width="0.4"/>
<polyline points="71.00,460.40 71.00,457.60 123.00,457.60 123.00,460.40" fill="none" stroke="#000" stroke-width="1.0"/>
<text x="97.9" y="454.8" font-size="6.8" fill="#333" text-anchor="middle" style='font-family:"Liberation Serif",serif'><tspan font-style="italic">P</tspan> &lt; .01</text>
<polyline points="172.70,503.00 172.70,499.70 228.40,499.70 228.40,503.00" fill="none" stroke="#000" stroke-width="1.0"/>
<text x="201.00" y="495.80" font-size="6.8" text-anchor="middle" style='font-family:"Liberation Serif",serif' font-weight="normal" font-style="normal" fill="#222" stroke="#222" stroke-width="0.18">NS</text>
<text x="96.40" y="590.00" font-size="9.8" text-anchor="middle" style='font-family:"Liberation Serif",serif' font-weight="normal" font-style="normal" fill="#000" stroke="#000" stroke-width="0.18">PD-L1</text>
<text x="194.60" y="589.90" font-size="9.1" text-anchor="middle" style='font-family:"Liberation Serif",serif' font-weight="normal" font-style="normal" fill="#000" stroke="#000" stroke-width="0.18">PD-1</text>
<line x1="280.60" y1="29.20" x2="280.60" y2="113.00" stroke="#000" stroke-width="1.5"/>
<line x1="280.20" y1="112.40" x2="520.00" y2="112.40" stroke="#000" stroke-width="1.6"/>
<line x1="277.80" y1="112.40" x2="280.60" y2="112.40" stroke="#000" stroke-width="1.2"/>
<text x="277.00" y="115.40" font-size="7.4" text-anchor="end" style='font-family:"Liberation Serif",serif' font-weight="normal" font-style="normal" fill="#000" stroke="#000" stroke-width="0.18">0</text>
<line x1="277.80" y1="91.70" x2="280.60" y2="91.70" stroke="#000" stroke-width="1.2"/>
<text x="277.00" y="94.70" font-size="7.4" text-anchor="end" style='font-family:"Liberation Serif",serif' font-weight="normal" font-style="normal" fill="#000" stroke="#000" stroke-width="0.18">25</text>
<line x1="277.80" y1="71.00" x2="280.60" y2="71.00" stroke="#000" stroke-width="1.2"/>
<text x="277.00" y="74.00" font-size="7.4" text-anchor="end" style='font-family:"Liberation Serif",serif' font-weight="normal" font-style="normal" fill="#000" stroke="#000" stroke-width="0.18">50</text>
<line x1="277.80" y1="50.30" x2="280.60" y2="50.30" stroke="#000" stroke-width="1.2"/>
<text x="277.00" y="53.30" font-size="7.4" text-anchor="end" style='font-family:"Liberation Serif",serif' font-weight="normal" font-style="normal" fill="#000" stroke="#000" stroke-width="0.18">75</text>
<line x1="277.80" y1="29.60" x2="280.60" y2="29.60" stroke="#000" stroke-width="1.2"/>
<text x="277.00" y="32.60" font-size="7.4" text-anchor="end" style='font-family:"Liberation Serif",serif' font-weight="normal" font-style="normal" fill="#000" stroke="#000" stroke-width="0.18">100</text>
<text x="260.40" y="67.00" font-size="10.3" text-anchor="middle" style='font-family:"Liberation Serif",serif' font-weight="normal" font-style="normal" fill="#000" stroke="#000" stroke-width="0.18" transform="rotate(-90 260.40 67.00)">% positive cells</text>
<line x1="311.20" y1="112.40" x2="311.20" y2="114.80" stroke="#000" stroke-width="0.8"/>
<line x1="375.00" y1="112.40" x2="375.00" y2="114.80" stroke="#000" stroke-width="0.8"/>
<line x1="436.40" y1="112.40" x2="436.40" y2="114.80" stroke="#000" stroke-width="0.8"/>
<line x1="498.40" y1="112.40" x2="498.40" y2="114.80" stroke="#000" stroke-width="0.8"/>
<line x1="311.20" y1="53.94" x2="375.00" y2="60.73" stroke="#000" stroke-width="1.0"/>
<line x1="311.20" y1="55.68" x2="375.00" y2="60.73" stroke="#000" stroke-width="1.0"/>
<line x1="311.20" y1="57.75" x2="375.00" y2="73.48" stroke="#000" stroke-width="1.0"/>
<line x1="311.20" y1="80.27" x2="375.00" y2="83.42" stroke="#000" stroke-width="1.0"/>
<rect x="309.70" y="52.44" width="3.0" height="3.0" fill="#fff" stroke="#000" stroke-width="0.8"/>
<rect x="373.30" y="59.03" width="3.4" height="3.4" fill="#000" stroke="#000" stroke-width="0.4"/>
<rect x="309.70" y="54.18" width="3.0" height="3.0" fill="#fff" stroke="#000" stroke-width="0.8"/>
<rect x="373.30" y="59.03" width="3.4" height="3.4" fill="#000" stroke="#000" stroke-width="0.4"/>
<rect x="309.70" y="56.25" width="3.0" height="3.0" fill="#fff" stroke="#000" stroke-width="0.8"/>
<rect x="373.30" y="71.78" width="3.4" height="3.4" fill="#000" stroke="#000" stroke-width="0.4"/>
<rect x="309.70" y="78.77" width="3.0" height="3.0" fill="#fff" stroke="#000" stroke-width="0.8"/>
<rect x="373.30" y="81.72" width="3.4" height="3.4" fill="#000" stroke="#000" stroke-width="0.4"/>
<line x1="311.20" y1="85.90" x2="375.00" y2="98.57" stroke="#000" stroke-width="1.0"/>
<line x1="311.20" y1="98.57" x2="375.00" y2="102.88" stroke="#000" stroke-width="1.0"/>
<line x1="311.20" y1="100.39" x2="375.00" y2="109.92" stroke="#000" stroke-width="1.0"/>
<polygon points="311.20,84.33 309.45,87.48 312.95,87.48" fill="#fff" stroke="#000" stroke-width="0.8"/>
<polygon points="375.00,96.68 372.90,100.46 377.10,100.46" fill="#000" stroke="#000" stroke-width="0.5"/>
<polygon points="311.20,97.00 309.45,100.15 312.95,100.15" fill="#fff" stroke="#000" stroke-width="0.8"/>
<polygon points="375.00,100.99 372.90,104.77 377.10,104.77" fill="#000" stroke="#000" stroke-width="0.5"/>
<polygon points="311.20,98.82 309.45,101.97 312.95,101.97" fill="#fff" stroke="#000" stroke-width="0.8"/>
<polygon points="375.00,108.03 372.90,111.81 377.10,111.81" fill="#000" stroke="#000" stroke-width="0.5"/>
<line x1="311.20" y1="101.64" x2="375.00" y2="108.67" stroke="#000" stroke-width="1.0"/>
<line x1="311.20" y1="103.29" x2="375.00" y2="110.33" stroke="#000" stroke-width="1.0"/>
<line x1="311.20" y1="109.42" x2="375.00" y2="111.08" stroke="#000" stroke-width="1.0"/>
<circle cx="311.20" cy="101.64" r="1.9" fill="#fff" stroke="#000" stroke-width="0.8"/>
<circle cx="375.00" cy="108.67" r="2.0" fill="#000" stroke="#000" stroke-width="0.5"/>
<circle cx="311.20" cy="103.29" r="1.9" fill="#fff" stroke="#000" stroke-width="0.8"/>
<circle cx="375.00" cy="110.33" r="2.0" fill="#000" stroke="#000" stroke-width="0.5"/>
<circle cx="311.20" cy="109.42" r="1.9" fill="#fff" stroke="#000" stroke-width="0.8"/>
<circle cx="375.00" cy="111.08" r="2.0" fill="#000" stroke="#000" stroke-width="0.5"/>
<line x1="436.40" y1="44.67" x2="498.40" y2="61.48" stroke="#000" stroke-width="1.0"/>
<line x1="436.40" y1="52.20" x2="498.40" y2="58.99" stroke="#000" stroke-width="1.0"/>
<line x1="436.40" y1="58.41" x2="498.40" y2="67.69" stroke="#000" stroke-width="1.0"/>
<rect x="434.90" y="43.17" width="3.0" height="3.0" fill="#fff" stroke="#000" stroke-width="0.8"/>
<rect x="496.70" y="59.78" width="3.4" height="3.4" fill="#000" stroke="#000" stroke-width="0.4"/>
<rect x="434.90" y="50.70" width="3.0" height="3.0" fill="#fff" stroke="#000" stroke-width="0.8"/>
<rect x="496.70" y="57.29" width="3.4" height="3.4" fill="#000" stroke="#000" stroke-width="0.4"/>
<rect x="434.90" y="56.91" width="3.0" height="3.0" fill="#fff" stroke="#000" stroke-width="0.8"/>
<rect x="496.70" y="65.99" width="3.4" height="3.4" fill="#000" stroke="#000" stroke-width="0.4"/>
<line x1="436.40" y1="52.20" x2="498.40" y2="64.71" stroke="#000" stroke-width="1.0"/>
<line x1="436.40" y1="64.71" x2="498.40" y2="62.72" stroke="#000" stroke-width="1.0"/>
<line x1="436.40" y1="73.24" x2="498.40" y2="64.71" stroke="#000" stroke-width="1.0"/>
<polygon points="436.40,50.63 434.65,53.78 438.15,53.78" fill="#fff" stroke="#000" stroke-width="0.8"/>
<rect x="496.70" y="63.01" width="3.4" height="3.4" fill="#000" stroke="#000" stroke-width="0.4"/>
<polygon points="436.40,63.13 434.65,66.28 438.15,66.28" fill="#fff" stroke="#000" stroke-width="0.8"/>
<rect x="496.70" y="61.02" width="3.4" height="3.4" fill="#000" stroke="#000" stroke-width="0.4"/>
<polygon points="436.40,71.66 434.65,74.81 438.15,74.81" fill="#fff" stroke="#000" stroke-width="0.8"/>
<rect x="496.70" y="63.01" width="3.4" height="3.4" fill="#000" stroke="#000" stroke-width="0.4"/>
<line x1="436.40" y1="82.26" x2="498.40" y2="67.69" stroke="#000" stroke-width="1.0"/>
<circle cx="436.40" cy="82.26" r="1.9" fill="#fff" stroke="#000" stroke-width="0.8"/>
<rect x="496.70" y="65.99" width="3.4" height="3.4" fill="#000" stroke="#000" stroke-width="0.4"/>
<line x1="436.40" y1="93.36" x2="498.40" y2="79.03" stroke="#000" stroke-width="1.0"/>
<line x1="436.40" y1="103.37" x2="498.40" y2="84.58" stroke="#000" stroke-width="1.0"/>
<circle cx="436.40" cy="93.36" r="1.9" fill="#fff" stroke="#000" stroke-width="0.8"/>
<circle cx="498.40" cy="79.03" r="2.0" fill="#000" stroke="#000" stroke-width="0.5"/>
<circle cx="436.40" cy="103.37" r="1.9" fill="#fff" stroke="#000" stroke-width="0.8"/>
<circle cx="498.40" cy="84.58" r="2.0" fill="#000" stroke="#000" stroke-width="0.5"/>
<polyline points="312.50,28.90 312.50,25.20 373.60,25.20 373.60,28.90" fill="none" stroke="#000" stroke-width="1.0"/>
<text x="342.3" y="21" font-size="6.8" fill="#333" text-anchor="middle" style='font-family:"Liberation Serif",serif'><tspan font-style="italic">P</tspan> &lt; .01</text>
<polyline points="437.20,28.90 437.20,25.10 497.90,25.10 497.90,28.90" fill="none" stroke="#000" stroke-width="1.0"/>
<text x="467.30" y="20.80" font-size="6.8" text-anchor="middle" style='font-family:"Liberation Serif",serif' font-weight="normal" font-style="normal" fill="#333" stroke="#333" stroke-width="0.18">NS</text>
<text x="339.40" y="137.20" font-size="10" text-anchor="middle" style='font-family:"Liberation Serif",serif' font-weight="normal" font-style="normal" fill="#000" stroke="#000" stroke-width="0.18" textLength="23.6" lengthAdjust="spacingAndGlyphs">PD-L1</text>
<text x="469.80" y="137.20" font-size="10" text-anchor="middle" style='font-family:"Liberation Serif",serif' font-weight="normal" font-style="normal" fill="#000" stroke="#000" stroke-width="0.18" textLength="18" lengthAdjust="spacingAndGlyphs">PD-1</text>
<line x1="282.10" y1="168.20" x2="282.10" y2="273.10" stroke="#000" stroke-width="1.8"/>
<line x1="281.20" y1="272.20" x2="438.00" y2="272.20" stroke="#000" stroke-width="1.8"/>
<line x1="278.50" y1="272.20" x2="282.10" y2="272.20" stroke="#000" stroke-width="1.2"/>
<text x="278.50" y="274.80" font-size="7.6" text-anchor="end" style='font-family:"Liberation Sans",sans-serif' font-weight="bold" font-style="normal" fill="#000" stroke="#000" stroke-width="0.18">0</text>
<line x1="282.10" y1="272.20" x2="282.10" y2="275.60" stroke="#000" stroke-width="1.2"/>
<text x="282.10" y="283.70" font-size="7.9" text-anchor="middle" style='font-family:"Liberation Sans",sans-serif' font-weight="bold" font-style="normal" fill="#000" stroke="#000" stroke-width="0.18">0</text>
<line x1="278.50" y1="257.43" x2="282.10" y2="257.43" stroke="#000" stroke-width="1.2"/>
<text x="278.50" y="260.03" font-size="7.6" text-anchor="end" style='font-family:"Liberation Sans",sans-serif' font-weight="bold" font-style="normal" fill="#000" stroke="#000" stroke-width="0.18">10</text>
<line x1="304.27" y1="272.20" x2="304.27" y2="275.60" stroke="#000" stroke-width="1.2"/>
<text x="304.27" y="283.70" font-size="7.9" text-anchor="middle" style='font-family:"Liberation Sans",sans-serif' font-weight="bold" font-style="normal" fill="#000" stroke="#000" stroke-width="0.18">10</text>
<line x1="278.50" y1="242.66" x2="282.10" y2="242.66" stroke="#000" stroke-width="1.2"/>
<text x="278.50" y="245.26" font-size="7.6" text-anchor="end" style='font-family:"Liberation Sans",sans-serif' font-weight="bold" font-style="normal" fill="#000" stroke="#000" stroke-width="0.18">20</text>
<line x1="326.44" y1="272.20" x2="326.44" y2="275.60" stroke="#000" stroke-width="1.2"/>
<text x="326.44" y="283.70" font-size="7.9" text-anchor="middle" style='font-family:"Liberation Sans",sans-serif' font-weight="bold" font-style="normal" fill="#000" stroke="#000" stroke-width="0.18">20</text>
<line x1="278.50" y1="227.89" x2="282.10" y2="227.89" stroke="#000" stroke-width="1.2"/>
<text x="278.50" y="230.49" font-size="7.6" text-anchor="end" style='font-family:"Liberation Sans",sans-serif' font-weight="bold" font-style="normal" fill="#000" stroke="#000" stroke-width="0.18">30</text>
<line x1="348.61" y1="272.20" x2="348.61" y2="275.60" stroke="#000" stroke-width="1.2"/>
<text x="348.61" y="283.70" font-size="7.9" text-anchor="middle" style='font-family:"Liberation Sans",sans-serif' font-weight="bold" font-style="normal" fill="#000" stroke="#000" stroke-width="0.18">30</text>
<line x1="278.50" y1="213.12" x2="282.10" y2="213.12" stroke="#000" stroke-width="1.2"/>
<text x="278.50" y="215.72" font-size="7.6" text-anchor="end" style='font-family:"Liberation Sans",sans-serif' font-weight="bold" font-style="normal" fill="#000" stroke="#000" stroke-width="0.18">40</text>
<line x1="370.78" y1="272.20" x2="370.78" y2="275.60" stroke="#000" stroke-width="1.2"/>
<text x="370.78" y="283.70" font-size="7.9" text-anchor="middle" style='font-family:"Liberation Sans",sans-serif' font-weight="bold" font-style="normal" fill="#000" stroke="#000" stroke-width="0.18">40</text>
<line x1="278.50" y1="198.35" x2="282.10" y2="198.35" stroke="#000" stroke-width="1.2"/>
<text x="278.50" y="200.95" font-size="7.6" text-anchor="end" style='font-family:"Liberation Sans",sans-serif' font-weight="bold" font-style="normal" fill="#000" stroke="#000" stroke-width="0.18">50</text>
<line x1="392.95" y1="272.20" x2="392.95" y2="275.60" stroke="#000" stroke-width="1.2"/>
<text x="392.95" y="283.70" font-size="7.9" text-anchor="middle" style='font-family:"Liberation Sans",sans-serif' font-weight="bold" font-style="normal" fill="#000" stroke="#000" stroke-width="0.18">50</text>
<line x1="278.50" y1="183.58" x2="282.10" y2="183.58" stroke="#000" stroke-width="1.2"/>
<text x="278.50" y="186.18" font-size="7.6" text-anchor="end" style='font-family:"Liberation Sans",sans-serif' font-weight="bold" font-style="normal" fill="#000" stroke="#000" stroke-width="0.18">60</text>
<line x1="415.12" y1="272.20" x2="415.12" y2="275.60" stroke="#000" stroke-width="1.2"/>
<text x="415.12" y="283.70" font-size="7.9" text-anchor="middle" style='font-family:"Liberation Sans",sans-serif' font-weight="bold" font-style="normal" fill="#000" stroke="#000" stroke-width="0.18">60</text>
<line x1="278.50" y1="168.81" x2="282.10" y2="168.81" stroke="#000" stroke-width="1.2"/>
<text x="278.50" y="171.41" font-size="7.6" text-anchor="end" style='font-family:"Liberation Sans",sans-serif' font-weight="bold" font-style="normal" fill="#000" stroke="#000" stroke-width="0.18">70</text>
<line x1="437.29" y1="272.20" x2="437.29" y2="275.60" stroke="#000" stroke-width="1.2"/>
<text x="437.29" y="283.70" font-size="7.9" text-anchor="middle" style='font-family:"Liberation Sans",sans-serif' font-weight="bold" font-style="normal" fill="#000" stroke="#000" stroke-width="0.18">70</text>
<text x="260.00" y="220.80" font-size="9.8" text-anchor="middle" style='font-family:"Liberation Serif",serif' font-weight="normal" font-style="normal" fill="#000" stroke="#000" stroke-width="0.18" transform="rotate(-90 260.00 220.80)">% Apoptosis inhibition</text>
<rect x="297.64" y="218.31" width="4.4" height="4.4" fill="#000" stroke="#000" stroke-width="0"/>
<rect x="326.46" y="228.64" width="4.4" height="4.4" fill="#000" stroke="#000" stroke-width="0"/>
<rect x="339.76" y="221.26" width="4.4" height="4.4" fill="#000" stroke="#000" stroke-width="0"/>
<rect x="341.98" y="221.26" width="4.4" height="4.4" fill="#000" stroke="#000" stroke-width="0"/>
<rect x="353.06" y="190.24" width="4.4" height="4.4" fill="#000" stroke="#000" stroke-width="0"/>
<rect x="355.28" y="218.31" width="4.4" height="4.4" fill="#000" stroke="#000" stroke-width="0"/>
<rect x="359.71" y="200.58" width="4.4" height="4.4" fill="#000" stroke="#000" stroke-width="0"/>
<rect x="381.88" y="187.29" width="4.4" height="4.4" fill="#000" stroke="#000" stroke-width="0"/>
<text x="406.40" y="184.20" font-size="9.2" text-anchor="start" style='font-family:"Liberation Serif",serif' font-weight="normal" font-style="normal" fill="#000" stroke="#000" stroke-width="0.18">R=0.7</text>
<text x="406.4" y="195.9" font-size="9.2" text-anchor="start" style='font-family:"Liberation Serif",serif'><tspan font-style="italic">P</tspan> &lt; .05</text>
<text x="360.50" y="300.10" font-size="10.35" text-anchor="middle" style='font-family:"Liberation Serif",serif' font-weight="normal" font-style="normal" fill="#000" stroke="#000" stroke-width="0.18">% of inhibition of PD-L1 expression</text>
<line x1="280.60" y1="333.10" x2="280.60" y2="445.90" stroke="#000" stroke-width="0.9"/>
<line x1="280.20" y1="445.50" x2="450.80" y2="445.50" stroke="#000" stroke-width="1.0"/>
<line x1="277.00" y1="445.50" x2="280.60" y2="445.50" stroke="#000" stroke-width="0.8"/>
<text x="274.40" y="448.20" font-size="8" text-anchor="end" style='font-family:"Liberation Serif",serif' font-weight="normal" font-style="normal" fill="#000" stroke="#000" stroke-width="0.18">0</text>
<line x1="277.00" y1="417.40" x2="280.60" y2="417.40" stroke="#000" stroke-width="0.8"/>
<text x="274.40" y="420.10" font-size="8" text-anchor="end" style='font-family:"Liberation Serif",serif' font-weight="normal" font-style="normal" fill="#000" stroke="#000" stroke-width="0.18">25</text>
<line x1="277.00" y1="389.30" x2="280.60" y2="389.30" stroke="#000" stroke-width="0.8"/>
<text x="274.40" y="392.00" font-size="8" text-anchor="end" style='font-family:"Liberation Serif",serif' font-weight="normal" font-style="normal" fill="#000" stroke="#000" stroke-width="0.18">50</text>
<line x1="277.00" y1="361.20" x2="280.60" y2="361.20" stroke="#000" stroke-width="0.8"/>
<text x="274.40" y="363.90" font-size="8" text-anchor="end" style='font-family:"Liberation Serif",serif' font-weight="normal" font-style="normal" fill="#000" stroke="#000" stroke-width="0.18">75</text>
<line x1="277.00" y1="333.10" x2="280.60" y2="333.10" stroke="#000" stroke-width="0.8"/>
<text x="274.40" y="335.80" font-size="8" text-anchor="end" style='font-family:"Liberation Serif",serif' font-weight="normal" font-style="normal" fill="#000" stroke="#000" stroke-width="0.18">100</text>
<text x="258.80" y="390.30" font-size="7.4" text-anchor="middle" style='font-family:"Liberation Serif",serif' font-weight="normal" font-style="normal" fill="#000" stroke="#000" stroke-width="0.18" transform="rotate(-90 258.80 390.30)">MFI</text>
<rect x="300.19" y="357.94" width="3.5" height="3.5" fill="#fff" stroke="#000" stroke-width="1.3"/>
<rect x="294.67" y="362.20" width="3.5" height="3.5" fill="#fff" stroke="#000" stroke-width="1.3"/>
<rect x="300.19" y="368.48" width="3.5" height="3.5" fill="#fff" stroke="#000" stroke-width="1.3"/>
<rect x="300.19" y="383.03" width="3.5" height="3.5" fill="#fff" stroke="#000" stroke-width="1.3"/>
<rect x="294.67" y="395.33" width="3.5" height="3.5" fill="#fff" stroke="#000" stroke-width="1.3"/>
<rect x="305.97" y="395.33" width="3.5" height="3.5" fill="#fff" stroke="#000" stroke-width="1.3"/>
<rect x="300.19" y="398.59" width="3.5" height="3.5" fill="#fff" stroke="#000" stroke-width="1.3"/>
<rect x="300.19" y="406.62" width="3.5" height="3.5" fill="#fff" stroke="#000" stroke-width="1.3"/>
<rect x="294.67" y="412.39" width="3.5" height="3.5" fill="#fff" stroke="#000" stroke-width="1.3"/>
<rect x="300.19" y="414.90" width="3.5" height="3.5" fill="#fff" stroke="#000" stroke-width="1.3"/>
<rect x="294.67" y="423.68" width="3.5" height="3.5" fill="#fff" stroke="#000" stroke-width="1.3"/>
<rect x="311.49" y="422.43" width="3.5" height="3.5" fill="#fff" stroke="#000" stroke-width="1.3"/>
<rect x="305.97" y="425.69" width="3.5" height="3.5" fill="#fff" stroke="#000" stroke-width="1.3"/>
<rect x="300.19" y="426.69" width="3.5" height="3.5" fill="#fff" stroke="#000" stroke-width="1.3"/>
<line x1="287.10" y1="401.10" x2="316.50" y2="401.10" stroke="#000" stroke-width="1.2"/>
<rect x="335.93" y="385.89" width="4.8" height="4.8" fill="#000" stroke="#000" stroke-width="0"/>
<rect x="341.70" y="391.67" width="4.8" height="4.8" fill="#000" stroke="#000" stroke-width="0"/>
<rect x="341.70" y="397.94" width="4.8" height="4.8" fill="#000" stroke="#000" stroke-width="0"/>
<rect x="330.41" y="405.47" width="4.8" height="4.8" fill="#000" stroke="#000" stroke-width="0"/>
<rect x="353.00" y="404.71" width="4.8" height="4.8" fill="#000" stroke="#000" stroke-width="0"/>
<rect x="335.93" y="409.73" width="4.8" height="4.8" fill="#000" stroke="#000" stroke-width="0"/>
<rect x="341.70" y="409.73" width="4.8" height="4.8" fill="#000" stroke="#000" stroke-width="0"/>
<rect x="347.47" y="409.73" width="4.8" height="4.8" fill="#000" stroke="#000" stroke-width="0"/>
<rect x="341.70" y="420.52" width="4.8" height="4.8" fill="#000" stroke="#000" stroke-width="0"/>
<rect x="347.47" y="419.27" width="4.8" height="4.8" fill="#000" stroke="#000" stroke-width="0"/>
<rect x="335.93" y="429.31" width="4.8" height="4.8" fill="#000" stroke="#000" stroke-width="0"/>
<rect x="341.70" y="427.30" width="4.8" height="4.8" fill="#000" stroke="#000" stroke-width="0"/>
<rect x="347.47" y="431.06" width="4.8" height="4.8" fill="#000" stroke="#000" stroke-width="0"/>
<rect x="341.70" y="434.33" width="4.8" height="4.8" fill="#000" stroke="#000" stroke-width="0"/>
<line x1="329.20" y1="415.10" x2="358.90" y2="415.10" stroke="#000" stroke-width="1.2"/>
<polygon points="386.31,357.69 388.31,359.69 386.31,361.69 384.31,359.69" fill="#fff" stroke="#000" stroke-width="1.3"/>
<polygon points="386.31,380.27 388.31,382.27 386.31,384.27 384.31,382.27" fill="#fff" stroke="#000" stroke-width="1.3"/>
<polygon points="386.31,391.56 388.31,393.56 386.31,395.56 384.31,393.56" fill="#fff" stroke="#000" stroke-width="1.3"/>
<polygon points="392.08,402.10 394.08,404.10 392.08,406.10 390.08,404.10" fill="#fff" stroke="#000" stroke-width="1.3"/>
<polygon points="386.31,405.11 388.31,407.11 386.31,409.11 384.31,407.11" fill="#fff" stroke="#000" stroke-width="1.3"/>
<polygon points="392.08,406.62 394.08,408.62 392.08,410.62 390.08,408.62" fill="#fff" stroke="#000" stroke-width="1.3"/>
<polygon points="380.79,408.88 382.79,410.88 380.79,412.88 378.79,410.88" fill="#fff" stroke="#000" stroke-width="1.3"/>
<polygon points="386.31,412.14 388.31,414.14 386.31,416.14 384.31,414.14" fill="#fff" stroke="#000" stroke-width="1.3"/>
<polygon points="386.31,428.95 388.31,430.95 386.31,432.95 384.31,430.95" fill="#fff" stroke="#000" stroke-width="1.3"/>
<polygon points="392.08,427.95 394.08,429.95 392.08,431.95 390.08,429.95" fill="#fff" stroke="#000" stroke-width="1.3"/>
<line x1="372.00" y1="404.10" x2="400.90" y2="404.10" stroke="#000" stroke-width="1.2"/>
<polygon points="428.97,385.69 431.57,388.29 428.97,390.89 426.37,388.29" fill="#000" stroke="#000" stroke-width="0"/>
<polygon points="423.20,396.48 425.80,399.08 423.20,401.68 420.60,399.08" fill="#000" stroke="#000" stroke-width="0"/>
<polygon points="428.97,397.74 431.57,400.34 428.97,402.94 426.37,400.34" fill="#000" stroke="#000" stroke-width="0"/>
<polygon points="423.20,404.51 425.80,407.11 423.20,409.71 420.60,407.11" fill="#000" stroke="#000" stroke-width="0"/>
<polygon points="428.97,408.28 431.57,410.88 428.97,413.48 426.37,410.88" fill="#000" stroke="#000" stroke-width="0"/>
<polygon points="434.74,407.02 437.34,409.62 434.74,412.22 432.14,409.62" fill="#000" stroke="#000" stroke-width="0"/>
<polygon points="423.20,416.56 425.80,419.16 423.20,421.76 420.60,419.16" fill="#000" stroke="#000" stroke-width="0"/>
<polygon points="428.97,418.32 431.57,420.92 428.97,423.52 426.37,420.92" fill="#000" stroke="#000" stroke-width="0"/>
<polygon points="428.97,431.62 431.57,434.22 428.97,436.82 426.37,434.22" fill="#000" stroke="#000" stroke-width="0"/>
<polygon points="434.74,431.62 437.34,434.22 434.74,436.82 432.14,434.22" fill="#000" stroke="#000" stroke-width="0"/>
<line x1="414.40" y1="412.40" x2="443.50" y2="412.40" stroke="#000" stroke-width="1.2"/>
<polyline points="301.90,347.60 301.90,344.40 349.90,344.40 349.90,347.60" fill="none" stroke="#000" stroke-width="1.0"/>
<text x="327.3" y="338.6" font-size="7" fill="#222" text-anchor="middle" style='font-family:"Liberation Serif",serif'><tspan font-style="italic">P</tspan> &lt; .01</text>
<polyline points="385.60,348.40 385.60,345.10 432.00,345.10 432.00,348.40" fill="none" stroke="#000" stroke-width="1.0"/>
<text x="408.10" y="339.20" font-size="7.6" text-anchor="middle" style='font-family:"Liberation Serif",serif' font-weight="normal" font-style="normal" fill="#222" stroke="#222" stroke-width="0.18">NS</text>
<text x="323.60" y="459.20" font-size="8.7" text-anchor="middle" style='font-family:"Liberation Serif",serif' font-weight="normal" font-style="normal" fill="#000" stroke="#000" stroke-width="0.18">PD-L1</text>
<text x="410.30" y="460.40" font-size="8.9" text-anchor="middle" style='font-family:"Liberation Serif",serif' font-weight="normal" font-style="normal" fill="#000" stroke="#000" stroke-width="0.18">PD-1</text>
</g>
<defs><filter id="soft" x="0" y="0" width="520" height="590" filterUnits="userSpaceOnUse"><feGaussianBlur stdDeviation="0.35"/></filter></defs>
</svg>
</body></html>
